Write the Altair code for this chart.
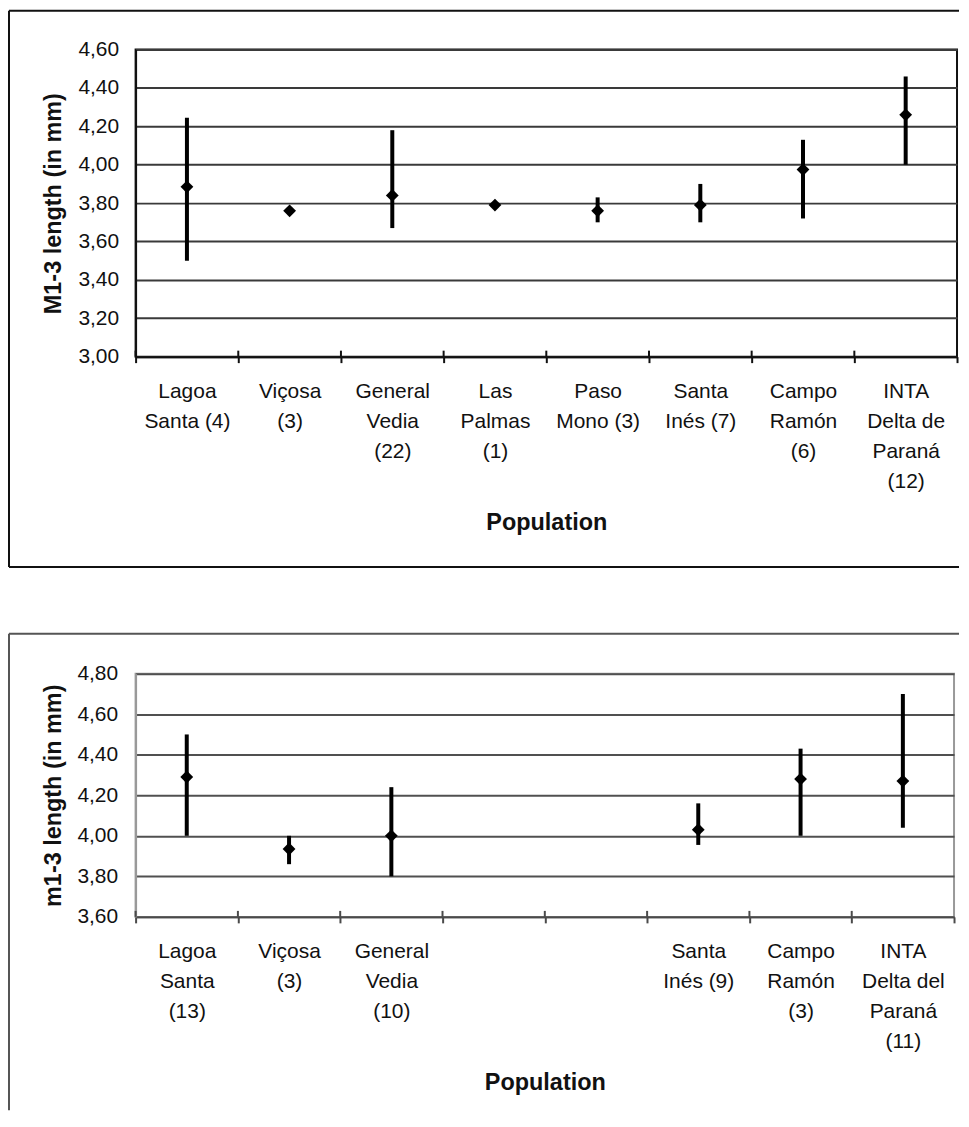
import json
import altair as alt
import pandas as pd

FONT = "Liberation Sans"

# ---------------- data ----------------
keys = ["LS", "VI", "GV", "LP", "PM", "SI", "CR", "IN"]

top_labels = [
    ["Lagoa", "Santa (4)"],
    ["Viçosa", "(3)"],
    ["General", "Vedia", "(22)"],
    ["Las", "Palmas", "(1)"],
    ["Paso", "Mono (3)"],
    ["Santa", "Inés (7)"],
    ["Campo", "Ramón", "(6)"],
    ["INTA", "Delta de", "Paraná", "(12)"],
]
top_keys = ["LS", "VI", "GV", "LP", "PM", "SI", "CR", "IN"]
top_mean = [3.885, 3.76, 3.84, 3.79, 3.76, 3.79, 3.975, 4.26]
top_low = [3.50, 3.76, 3.67, 3.79, 3.70, 3.70, 3.72, 4.00]
top_high = [4.245, 3.76, 4.18, 3.79, 3.83, 3.90, 4.13, 4.46]
top_yticks = [3.0, 3.2, 3.4, 3.6, 3.8, 4.0, 4.2, 4.4, 4.6]

bot_labels = [
    ["Lagoa", "Santa", "(13)"],
    ["Viçosa", "(3)"],
    ["General", "Vedia", "(10)"],
    [""],
    [""],
    ["Santa", "Inés (9)"],
    ["Campo", "Ramón", "(3)"],
    ["INTA", "Delta del", "Paraná", "(11)"],
]
bot_keys = ["LS", "VI", "GV", "SI", "CR", "IN"]
bot_mean = [4.29, 3.935, 4.00, 4.03, 4.28, 4.27]
bot_low = [4.00, 3.86, 3.80, 3.955, 4.00, 4.04]
bot_high = [4.50, 4.00, 4.24, 4.16, 4.43, 4.70]
bot_yticks = [3.6, 3.8, 4.0, 4.2, 4.4, 4.6, 4.8]

Y_LABEL_EXPR = "replace(format(datum.value, '.2f'), '.', ',')"


def hrule(x1, x2, y, color):
    return alt.Chart(pd.DataFrame({"a": [0]})).mark_rule(
        color=color, strokeWidth=2
    ).encode(x=alt.value(x1), x2=alt.value(x2), y=alt.value(y))


def vrule(x, y1, y2, color):
    return alt.Chart(pd.DataFrame({"a": [0]})).mark_rule(
        color=color, strokeWidth=2
    ).encode(x=alt.value(x), y=alt.value(y1), y2=alt.value(y2))


def panel(labels, data_keys, mean, low, high, yticks, ytitle, width, height,
          frame, axis_color, ydomain_color, grid_color, border_color,
          ylab_pad):
    df = pd.DataFrame({"key": data_keys, "mean": mean, "low": low, "high": high})
    cats = pd.DataFrame({"key": keys})
    label_map = json.dumps(dict(zip(keys, labels)), ensure_ascii=False)

    xscale = alt.Scale(type="band", domain=keys, paddingInner=0, paddingOuter=0)
    xaxis = alt.Axis(
        title="Population",
        labelExpr=f"{label_map}[datum.value]",
        labelAngle=0, labelAlign="center", labelBaseline="top",
        labelFontSize=21, labelLineHeight=30, labelPadding=18,
        labelOverlap=False, labelLimit=0,
        tickBand="extent", tickSize=6, tickWidth=2, tickColor=axis_color,
        domainColor=axis_color, domainWidth=2, grid=False,
        titleFontSize=23.5, titleFontWeight="bold", titleY=166,
        titleBaseline="middle",
    )
    yscale = alt.Scale(domain=[yticks[0], yticks[-1]], nice=False, zero=False)
    yaxis = alt.Axis(
        title=ytitle, values=yticks, labelExpr=Y_LABEL_EXPR,
        labelFontSize=21, labelPadding=ylab_pad, ticks=False, tickSize=0,
        domainColor=ydomain_color, domainWidth=2,
        grid=True, gridColor=grid_color, gridWidth=2,
        titleFontSize=23.5, titleFontWeight="bold", titleAngle=270,
        titleX=-75, titleY=height / 2, titleAlign="center",
        titleBaseline="alphabetic",
    )

    inner_ticks = alt.Chart(cats).mark_rule(color=axis_color, strokeWidth=2).encode(
        x=alt.X("key:N", scale=xscale, axis=xaxis, bandPosition=0),
        y=alt.value(height - 6), y2=alt.value(height),
    )
    bars = alt.Chart(df).mark_rule(color="black", strokeWidth=4).encode(
        x=alt.X("key:N", scale=xscale, axis=xaxis),
        y=alt.Y("low:Q", scale=yscale, axis=yaxis),
        y2="high:Q",
    )
    pts = alt.Chart(df).mark_point(
        shape="diamond", filled=True, size=165, color="black", opacity=1
    ).encode(
        x=alt.X("key:N", scale=xscale, axis=xaxis),
        y=alt.Y("mean:Q", scale=yscale, axis=yaxis),
    )
    return alt.layer(*frame, inner_ticks, bars, pts).properties(
        width=width, height=height,
        view=alt.ViewBackground(stroke=border_color, strokeWidth=2),
    )


top_frame = [
    hrule(-127, 826, -39, "#111111"),
    vrule(-127, -39, 519, "#111111"),
    hrule(-127, 826, 519, "#111111"),
]
top = panel(top_labels, top_keys, top_mean, top_low, top_high, top_yticks,
            "M1-3 length (in mm)", 824, 308, top_frame,
            "#111111", "#111111", "#3a3a3a", "#111111", 17)

bot_frame = [
    hrule(-127, 826, -40, "#555555"),
    vrule(-127, -40, 438, "#555555"),
]
bottom = panel(bot_labels, bot_keys, bot_mean, bot_low, bot_high, bot_yticks,
               "m1-3 length (in mm)", 821, 244, bot_frame,
               "#4a4a4a", "#999999", "#505050", "#999999", 18)

chart = alt.vconcat(
    top, bottom, spacing=63,
    padding={"left": -1, "top": -1, "right": 0, "bottom": 0},
).properties(
    background="white"
).configure(font=FONT).configure_axis(
    labelColor="#111111", titleColor="#111111", labelFont=FONT, titleFont=FONT
)

chart.save("out.html", embed_options={"renderer": "svg", "actions": False})
